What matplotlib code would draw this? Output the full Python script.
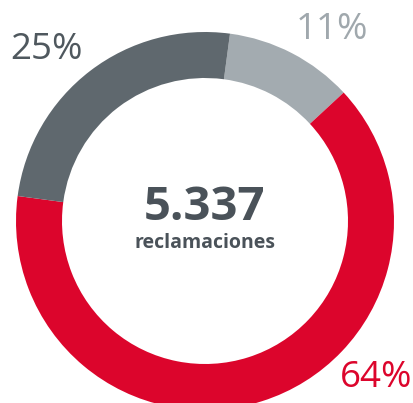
import matplotlib.pyplot as plt

# Claim shares by category, clockwise from the top
labels = ["11%", "64%", "25%"]
shares = [11, 64, 25]
colors = ["#a3abb0", "#dc052c", "#5f686e"]
label_colors = ["#a0a8ad", "#dc052c", "#4f585e"]
total_text = "5.337"
total_caption = "reclamaciones"

W, H = 414, 403
fig = plt.figure(figsize=(W / 100, H / 100), dpi=100)
ax = fig.add_axes([0, 0, 1, 1])

cx, cy = 205, H - 221
ax.pie(shares, radius=189, center=(cx, cy), startangle=82.4,
       counterclock=False, colors=colors,
       wedgeprops=dict(width=46, linewidth=0))

ax.set_xlim(0, W)
ax.set_ylim(0, H)
ax.set_aspect("equal")
ax.axis("off")

family = ["Open Sans", "DejaVu Sans"]
label_pos = [(332, 30), (376, 378), (47, 50)]
for text, (px, py), col in zip(labels, label_pos, label_colors):
    ax.text(px, H - py, text, ha="center", va="center", fontsize=26.5,
            color=col, family=family, fontweight="normal")

ax.text(cx, H - 208, total_text, ha="center", va="center", fontsize=34,
        fontweight="bold", color="#4a5259", family=family)
ax.text(cx, H - 243, total_caption, ha="center", va="center", fontsize=14,
        fontweight="bold", color="#4a5259", family=family)

fig.savefig("out.png", dpi=100)
